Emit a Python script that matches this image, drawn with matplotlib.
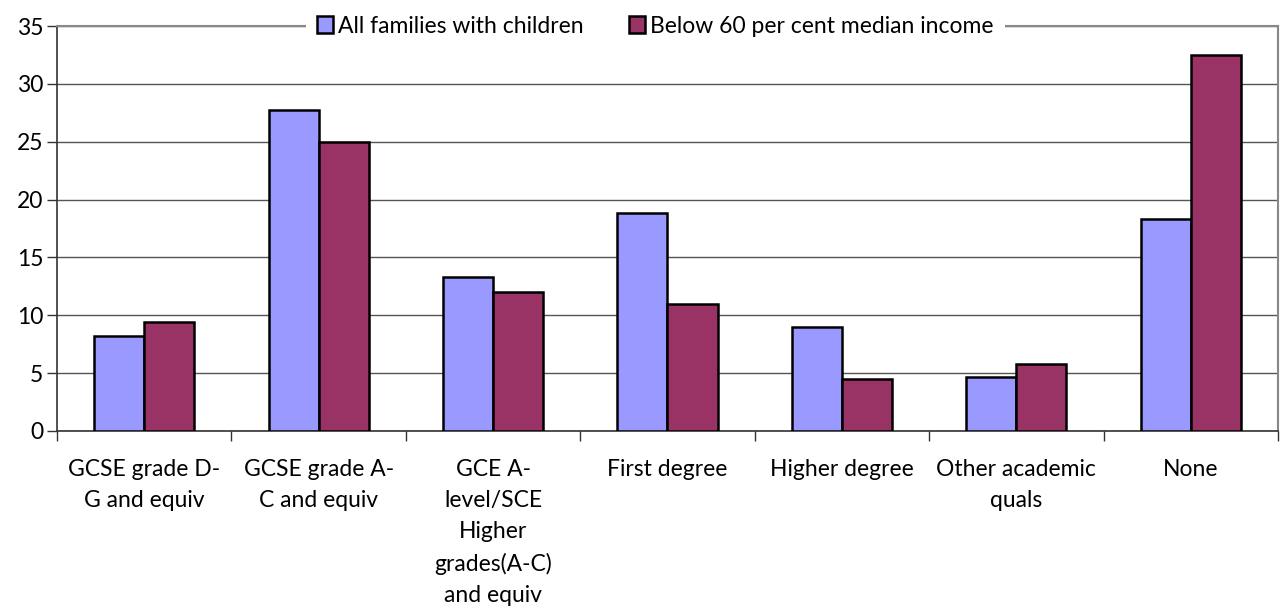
import matplotlib
matplotlib.use("Agg")
import matplotlib.pyplot as plt
import numpy as np

categories = [
    "GCSE grade D-\nG and equiv",
    "GCSE grade A-\nC and equiv",
    "GCE A-\nlevel/SCE\nHigher\ngrades(A-C)\nand equiv",
    "First degree",
    "Higher degree",
    "Other academic\nquals",
    "None",
]
all_families = [8.2, 27.7, 13.3, 18.8, 9.0, 4.7, 18.3]
below_60 = [9.4, 25.0, 12.0, 11.0, 4.5, 5.8, 32.5]
series_names = ["All families with children", "Below 60 per cent median income"]

LIGHT = "#9999FF"
MAROON = "#993366"
FS = 16.5

plt.rcParams["font.family"] = ["Lato", "DejaVu Sans"]

fig = plt.figure(figsize=(12.84, 6.11), dpi=100)
ax = fig.add_axes([0.0444, 0.2946, 0.9509, 0.6628])

x = np.arange(len(categories))
w = 0.287
ax.bar(x - w / 2, all_families, width=w, color=LIGHT, edgecolor="black",
       linewidth=1.8, label=series_names[0], zorder=3)
ax.bar(x + w / 2, below_60, width=w, color=MAROON, edgecolor="black",
       linewidth=1.8, label=series_names[1], zorder=3)

ax.set_xlim(-0.5, len(categories) - 0.5)
ax.set_ylim(0, 35)
ax.set_yticks(range(0, 36, 5))
ax.tick_params(axis="y", labelsize=FS, length=7, width=1, direction="out",
               color="#333333", pad=3)
ax.yaxis.grid(True, color="#555555", linewidth=1, zorder=0)

# category labels sit between boundary ticks
ax.set_xticks(x)
ax.set_xticklabels(categories, fontsize=FS, linespacing=1.6)
ax.tick_params(axis="x", length=0, pad=20)
ax.set_xticks(np.arange(-0.5, len(categories)), minor=True)
ax.tick_params(axis="x", which="minor", length=7, width=1, color="#333333")

for side in ("top", "right"):
    ax.spines[side].set_color("#888888")
    ax.spines[side].set_linewidth(1.5)
ax.spines["left"].set_color("#333333")
ax.spines["bottom"].set_color("#333333")
ax.spines["left"].set_linewidth(1.2)
ax.spines["bottom"].set_linewidth(1.2)

leg = ax.legend(loc="center", bbox_to_anchor=(0.49, 1.0), ncol=2, frameon=True,
                fontsize=FS, handlelength=0.7, handleheight=0.7,
                handletextpad=0.2, columnspacing=2.0, borderpad=0.5,
                borderaxespad=0)
leg.get_frame().set_facecolor("white")
leg.get_frame().set_edgecolor("none")
leg.get_frame().set_alpha(1)
leg.set_zorder(5)

fig.savefig("out.png", dpi=100)
